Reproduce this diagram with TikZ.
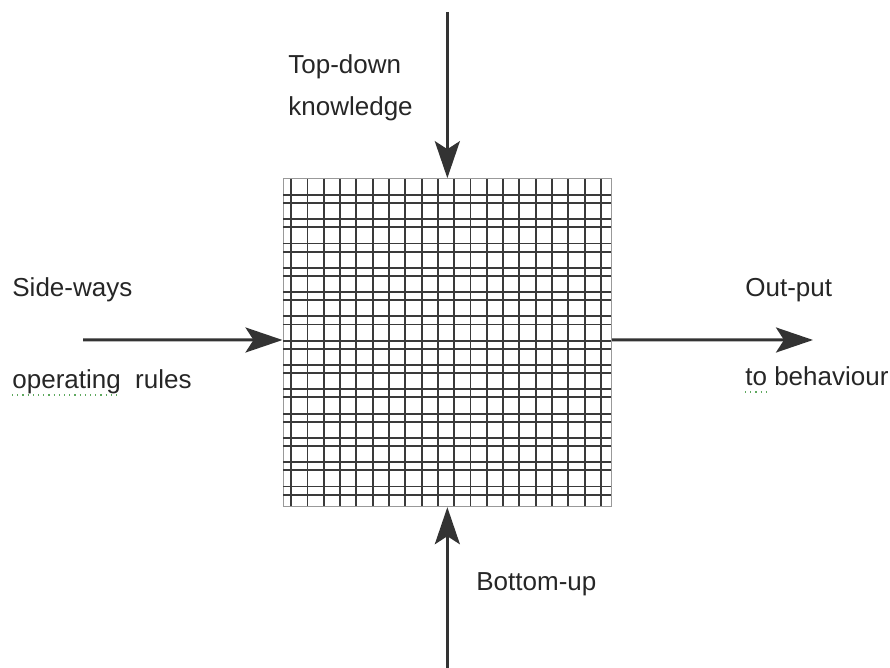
\documentclass[tikz,border=0pt]{standalone}
\usepackage{fontspec}
\setmainfont{Liberation Sans}
\usetikzlibrary{arrows.meta}
\definecolor{gridline}{HTML}{3A3A3A}
\definecolor{arrowcol}{HTML}{333333}
\definecolor{squiggle}{HTML}{5FA85F}
\tikzset{
  lbl/.style={anchor=base west, inner sep=0pt, font=\fontsize{13}{15}\selectfont, text=black!85},
  bigarrow/.style={draw=arrowcol, line width=1.5pt, -{Stealth[length=18.5pt, width=12.5pt, inset=4pt]}},
  gridbox/.style={draw=gray!80, line width=0.5pt, inner sep=0pt, minimum width=164.35pt, minimum height=164pt},
  gline/.style={draw=gridline, line width=0.95pt},
  spell/.style={draw=squiggle, line width=0.6pt, dotted}
}
\begin{document}
\begin{tikzpicture}[x=0.5pt, y=-0.5pt]
\useasboundingbox (0,0) rectangle (890,668);
% grid
\node[gridbox] (grid) at (447.35,342.7) {};
\foreach \j in {0,...,19} {
  \draw[gline] ({283+8.15*(2*\j+1)},179) -- ({283+8.15*(2*\j+1)},506.4);
}
\foreach \k in {2,...,39} {
  \pgfmathtruncatemacro{\r}{mod(\k,3)}
  \ifnum\r=1\relax\else
    \draw[gline] (283.3,{178.7+8.1*\k}) -- (611.4,{178.7+8.1*\k});
  \fi
}
% arrow end points
\coordinate (topstart) at (447.35,12);
\coordinate (leftstart) at (83,340);
\coordinate (rightend) at (813,340);
\coordinate (botstart) at (447.35,668);
% arrows
\draw[bigarrow] (topstart) -- (grid.north);
\draw[bigarrow] (leftstart) -- ([yshift=1.35pt]grid.west);
\draw[bigarrow] ([yshift=1.35pt]grid.east) -- (rightend);
\draw[bigarrow] (botstart) -- (grid.south);
% labels
\node[lbl] (td) at (288,74) {Top-down};
\node[lbl] (kn) at (288,116) {knowledge};
\node[lbl] (sw) at (12,297) {Side-ways};
\node[lbl] (op) at (12,389) {operating\ \ rules};
\node[lbl] (out) at (745,297) {Out-put};
\node[lbl] (tb) at (745,386) {to behaviour};
\node[lbl] (bu) at (476,590) {Bottom-up};
% spell-check underlines
\coordinate (sq1a) at (12,395);
\coordinate (sq1b) at (121,395);
\coordinate (sq2a) at (745,392);
\coordinate (sq2b) at (768,392);
\draw[spell] (sq1a) -- (sq1b);
\draw[spell] (sq2a) -- (sq2b);
\end{tikzpicture}
\end{document}
